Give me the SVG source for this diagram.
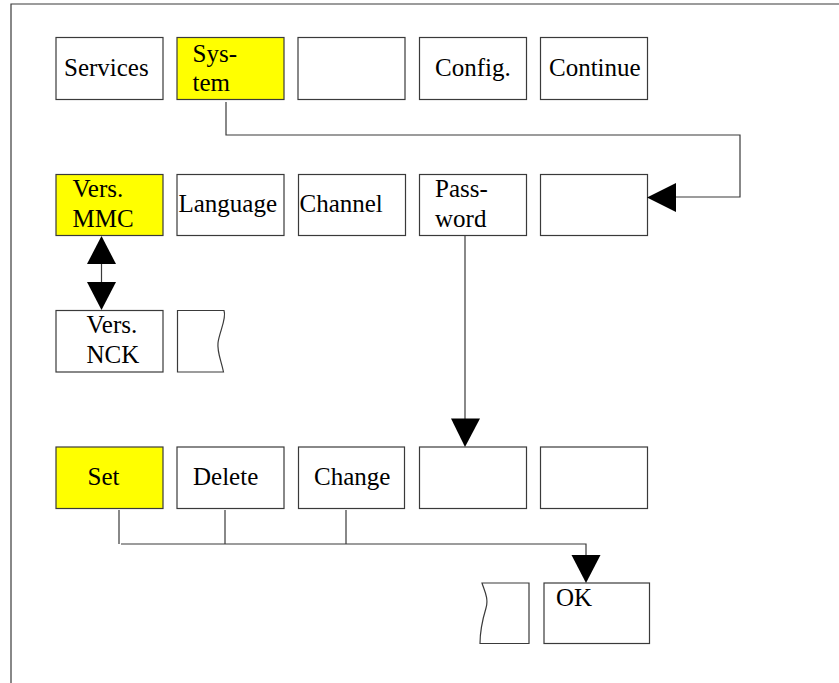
<svg xmlns="http://www.w3.org/2000/svg" width="839" height="683" viewBox="0 0 839 683">
  <defs>
    <style>
      .box { fill: #ffffff; stroke: #3a3a3a; stroke-width: 1.2; }
      .hl { fill: #ffff00; }
      .torn { fill: #ffffff; stroke: #3a3a3a; stroke-width: 1.2; stroke-linejoin: miter; }
      .wire { fill: none; stroke: #3a3a3a; stroke-width: 1.2; }
      .head { fill: #000000; stroke: none; }
      text { font-size: 25px; fill: #000000; }
    </style>
  </defs>
  <rect width="839" height="683" fill="#ffffff"/>

  <!-- outer frame (top and left edges) -->
  <path class="wire" d="M11,683 V4 H839" stroke-width="1.5"/>

  <g font-family="Liberation Serif, Times New Roman, DejaVu Serif, serif">
  <!-- row 1: softkeys -->
  <g id="services"><rect class="box" x="56" y="37.5" width="107" height="62"/><text x="64" y="76">Services</text></g>
  <g id="system"><rect class="box hl" x="177" y="37.5" width="107" height="62"/><text x="192.5" y="62">Sys-</text><text x="192.5" y="91">tem</text></g>
  <g id="blank1"><rect class="box" x="298" y="37.5" width="107" height="62"/></g>
  <g id="config"><rect class="box" x="419.5" y="37.5" width="107" height="62"/><text x="435" y="76">Config.</text></g>
  <g id="continue"><rect class="box" x="540.5" y="37.5" width="107" height="62"/><text x="549" y="76">Continue</text></g>

  <!-- row 2 -->
  <g id="vers-mmc"><rect class="box hl" x="56" y="174.5" width="107" height="61"/><text x="72.5" y="196.5">Vers.</text><text x="72.5" y="226.5">MMC</text></g>
  <g id="language"><rect class="box" x="177" y="174.5" width="107" height="61"/><text x="178.5" y="211.5">Language</text></g>
  <g id="channel"><rect class="box" x="298.5" y="174.5" width="107" height="61"/><text x="299.5" y="211.5">Channel</text></g>
  <g id="password"><rect class="box" x="419.5" y="174.5" width="107" height="61"/><text x="435" y="196.5">Pass-</text><text x="435" y="226.5">word</text></g>
  <g id="blank2"><rect class="box" x="540.5" y="174.5" width="107" height="61"/></g>

  <!-- row 3 -->
  <g id="vers-nck"><rect class="box" x="56" y="310.5" width="107" height="61.5"/><text x="86.5" y="333">Vers.</text><text x="86.5" y="363">NCK</text></g>
  <g id="torn-right"><path class="torn" d="M224,310.5 H177.5 V372 H223.5 C221,360 217,352 218,343 C219,333 227,318 224,310.5 Z"/></g>

  <!-- row 4 -->
  <g id="set"><rect class="box hl" x="56" y="447" width="107" height="61.5"/><text x="87.5" y="485">Set</text></g>
  <g id="delete"><rect class="box" x="177" y="447" width="107" height="61.5"/><text x="193" y="485">Delete</text></g>
  <g id="change"><rect class="box" x="298.5" y="447" width="106" height="61.5"/><text x="314" y="485">Change</text></g>
  <g id="blank3"><rect class="box" x="419.5" y="447" width="107" height="61.5"/></g>
  <g id="blank4"><rect class="box" x="540.5" y="447" width="107" height="61.5"/></g>

  <!-- row 5 -->
  <g id="torn-left"><path class="torn" d="M482,583 H529 V643.5 H480 C480,630 483,618 486,608 C489,598 484,590 482,583 Z"/></g>
  <g id="ok"><rect class="box" x="544" y="583" width="105.5" height="60.5"/><text x="556" y="605.5">OK</text></g>
  </g>

  <!-- connectors -->
  <g id="connectors">
    <!-- System to blank key in row 2 -->
    <path class="wire" d="M226,102 V135 H740 V197 H676"/>
    <polygon class="head" points="647,197.5 676,183 676,212"/>

    <!-- Vers. MMC and Vers. NCK toggle -->
    <path class="wire" d="M101.5,264 V282"/>
    <polygon class="head" points="101.5,236 87,264 116,264"/>
    <polygon class="head" points="101.5,310 87,282 116,282"/>

    <!-- Password down to row 4 -->
    <path class="wire" d="M465,236 V419"/>
    <polygon class="head" points="465,447 451,418.5 480,418.5"/>

    <!-- Set / Delete / Change bus to OK -->
    <path class="wire" d="M119,510 V544 M225,510 V544 M346,510 V544 M121,544 H586 V556"/>
    <polygon class="head" points="586,583 571.5,555 600.5,555"/>
  </g>
</svg>
